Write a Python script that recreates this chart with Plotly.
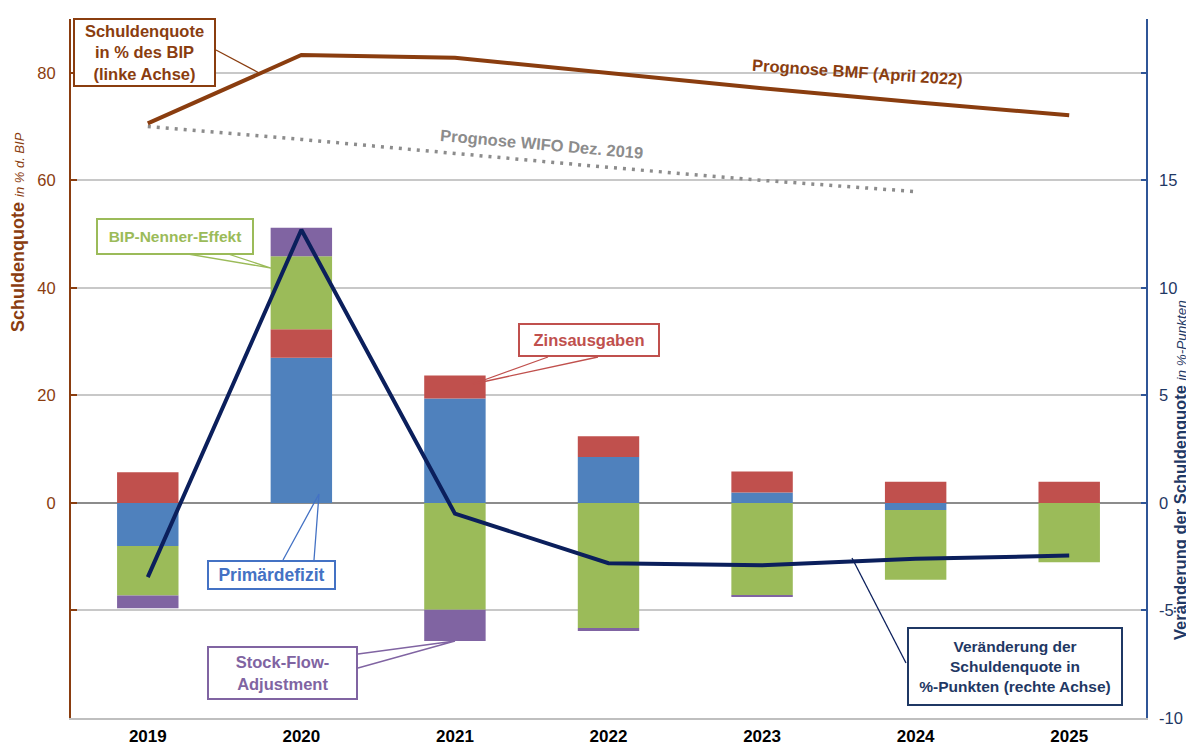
import plotly.graph_objects as go

# ---------------- data ----------------
years = ["2019", "2020", "2021", "2022", "2023", "2024", "2025"]
debt_ratio = [70.6, 83.3, 82.8, 80.0, 77.1, 74.5, 72.1]
debt_label_above = [False, False, False, True, False, False, False]
wifo_years = ["2019", "2020", "2021", "2022", "2023", "2024"]
wifo_forecast = [70.0, 67.6, 65.0, 62.4, 60.0, 57.9]
debt_change = [-3.45, 12.7, -0.5, -2.8, -2.9, -2.6, -2.45]
primary_deficit = [-2.0, 6.75, 4.85, 2.14, 0.48, -0.33, 0.0]
interest = [1.43, 1.32, 1.08, 0.96, 0.98, 0.98, 0.98]
gdp_effect = [-2.3, 3.4, -4.97, -5.82, -4.29, -3.24, -2.76]
stock_flow = [-0.6, 1.32, -1.45, -0.14, -0.06, 0.0, 0.0]
left_ticks = [-40, -20, 0, 20, 40, 60, 80]
left_ticktext = ["", "", "0", "20", "40", "60", "80"]
right_ticks = [-10, -5, 0, 5, 10, 15, 20]
right_ticktext = ["-10", "-5", "0", "5", "10", "15", ""]

# ---------------- styling ----------------
FONT = "Liberation Sans, Arial, sans-serif"
BROWN = "#8A3D0F"
NAVY = "#0B1F5C"
NAVY_TXT = "#1F3864"
AXIS_BLUE = "#2F5597"
C_BLUE = "#4F81BD"
C_RED = "#C0504D"
C_GREEN = "#9BBB59"
C_PURPLE = "#8064A2"
GRID = "#C8C8C8"

# page offset of the figure (default body margin) and wanted plot-area bounds in page pixels
OFF = 8
PL, PR, PT, PB = 71, 1146, 19, 718
FW, FH = 1194 - OFF, 745 - OFF
ML, MT = PL - OFF, PT - OFF
MR, MB = FW - (PR - OFF), FH - (PB - OFF)


def px(x):
    return (x - PL) / (PR - PL)


def py(y):
    return (PB - y) / (PB - PT)


fig = go.Figure()

for name, vals, col in [
    ("Primärdefizit", primary_deficit, C_BLUE),
    ("Zinsausgaben", interest, C_RED),
    ("BIP-Nenner-Effekt", gdp_effect, C_GREEN),
    ("Stock-Flow-Adjustment", stock_flow, C_PURPLE),
]:
    fig.add_trace(go.Bar(x=years, y=vals, name=name, marker=dict(color=col, line=dict(width=0)),
                         yaxis="y2", showlegend=False))

fig.add_trace(go.Scatter(x=wifo_years, y=wifo_forecast, mode="lines",
                         line=dict(color="#8C8C8C", width=3.5, dash="3px,6px"),
                         yaxis="y", showlegend=False))
fig.add_trace(go.Scatter(x=years, y=debt_ratio, mode="lines",
                         line=dict(color=BROWN, width=4), yaxis="y", showlegend=False))
fig.add_trace(go.Scatter(x=years, y=debt_change, mode="lines",
                         line=dict(color=NAVY, width=4), yaxis="y2", showlegend=False))

annotations = []
# data labels of the debt ratio
for yr, v, above in zip(years, debt_ratio, debt_label_above):
    annotations.append(dict(x=yr, y=v, xref="x", yref="y", text=f"{v:.1f}".replace(".", ","),
                            showarrow=False, yshift=13 if above else -26,
                            xanchor="center", yanchor="middle",
                            font=dict(family=FONT, size=16.5, color=BROWN, weight="bold")))


def box(text, x0, y0, x1, y1, color, size):
    return dict(text=text, x=px((x0 + x1) / 2), y=py((y0 + y1) / 2), xref="paper", yref="paper",
                xanchor="center", yanchor="middle", showarrow=False, align="center",
                font=dict(family=FONT, size=size, color=color, weight="bold"),
                bordercolor=color, borderwidth=2, borderpad=0, bgcolor="white",
                width=x1 - x0 - 4, height=y1 - y0 - 4)


def label(text, x, y, color, size, angle, weight="bold"):
    return dict(text=text, x=px(x), y=py(y), xref="paper", yref="paper", showarrow=False,
                xanchor="center", yanchor="middle", textangle=angle,
                font=dict(family=FONT, size=size, color=color, weight=weight))


annotations += [
    box("Schuldenquote<br>in % des BIP<br>(linke Achse)", 73, 18, 216, 87, BROWN, 16.5),
    box("BIP-Nenner-Effekt", 96, 218, 254, 255, C_GREEN, 15.5),
    box("Zinsausgaben", 518, 323, 660, 357, C_RED, 16.5),
    box("Primärdefizit", 207, 560, 336, 590, "#4472C4", 17.5),
    box("Stock-Flow-<br>Adjustment", 207, 646, 358, 700, C_PURPLE, 16.5),
    box("Veränderung der<br>Schuldenquote in<br>%-Punkten (rechte Achse)", 907, 627, 1123, 706, NAVY_TXT, 15.5),
    label("Prognose BMF (April 2022)", 857, 72, BROWN, 16.5, 4),
    label("Prognose WIFO Dez. 2019", 542, 144, "#8C8C8C", 16.5, 5),
    # axis titles
    label("<b>Schuldenquote</b> <i><span style='font-size:13px'>in % d. BIP</span></i>",
          18, 232, BROWN, 18, -90, weight="normal"),
    label("<b>Veränderung der Schuldenquote</b> <i><span style='font-size:13.5px'>in %-Punkten</span></i>",
          1180, 470, NAVY_TXT, 16.5, -90, weight="normal"),
]


# connector shapes
def path(points, color):
    d = "M " + " L ".join(f"{px(a)},{py(b)}" for a, b in points)
    return dict(type="path", path=d, xref="paper", yref="paper", line=dict(color=color, width=1.3),
                layer="above")


shapes = [
    path([(216, 50), (261, 74)], BROWN),
    path([(188, 254), (271, 268), (228, 254)], C_GREEN),
    path([(548, 357), (473, 384), (598, 357)], C_RED),
    path([(283, 560), (319, 494), (314, 560)], "#4472C4"),
    path([(358, 654), (455, 641), (358, 668)], C_PURPLE),
    path([(906, 663), (852, 558)], NAVY),
]

fig.update_layout(
    width=FW, height=FH,
    margin=dict(l=ML, r=MR, t=MT, b=MB, pad=0, autoexpand=False),
    paper_bgcolor="white", plot_bgcolor="white",
    barmode="relative", bargap=0.6,
    showlegend=False,
    font=dict(family=FONT),
    annotations=annotations,
    shapes=shapes,
    xaxis=dict(type="category", range=[-0.5, 6.5], showgrid=False, showline=True, automargin=False,
               linecolor="#BFBFBF", linewidth=1.5, ticks="", ticklabelstandoff=2,
               tickfont=dict(family=FONT, size=17, color="black", weight="bold")),
    yaxis=dict(range=[-40, 90], tickmode="array", tickvals=left_ticks, ticktext=left_ticktext,
               showgrid=True, gridcolor=GRID, gridwidth=1.5, automargin=False,
               zeroline=True, zerolinecolor="#8C8C8C", zerolinewidth=1.5,
               showline=True, linecolor=BROWN, linewidth=2,
               ticks="inside", ticklen=6, tickcolor=BROWN, tickwidth=1.5, ticklabelstandoff=10,
               tickfont=dict(family=FONT, size=16.5, color=BROWN)),
    yaxis2=dict(range=[-10, 22.5], overlaying="y", side="right", tickmode="array", automargin=False,
                tickvals=right_ticks, ticktext=right_ticktext, showgrid=False, zeroline=False,
                showline=True, linecolor=AXIS_BLUE, linewidth=1.5,
                ticks="inside", ticklen=5, tickcolor=AXIS_BLUE, tickwidth=1.5, ticklabelstandoff=8,
                tickfont=dict(family=FONT, size=16.5, color=NAVY_TXT)),
)

fig.write_html("out.html")
